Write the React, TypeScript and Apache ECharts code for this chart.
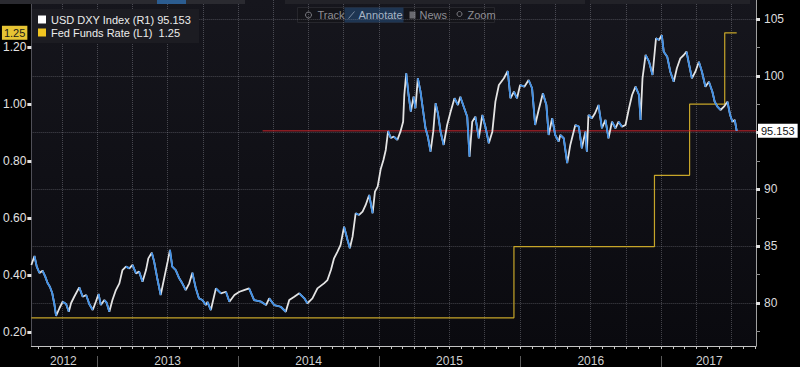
import React, { useEffect, useRef } from 'react';
import * as echarts from 'echarts';

const dxyName = 'USD DXY Index (R1)';
const fedName = 'Fed Funds Rate (L1)';

const dxyDates = [
  '2012-07-14','2012-07-22','2012-07-28','2012-08-04','2012-08-12','2012-08-19','2012-08-25','2012-08-31','2012-09-06','2012-09-12',
  '2012-09-16','2012-09-25','2012-10-03','2012-10-12','2012-10-19','2012-10-25','2012-11-02','2012-11-15','2012-11-24','2012-12-03',
  '2012-12-11','2012-12-20','2012-12-28','2013-01-04','2013-01-10','2013-01-19','2013-01-25','2013-02-01','2013-02-09','2013-02-18',
  '2013-02-27','2013-03-07','2013-03-16','2013-03-25','2013-04-02','2013-04-11','2013-04-19','2013-04-28','2013-05-07','2013-05-13',
  '2013-05-22','2013-05-28','2013-06-06','2013-06-14','2013-06-23','2013-07-02','2013-07-08','2013-07-14','2013-07-23','2013-08-01',
  '2013-08-09','2013-08-18','2013-08-27','2013-09-04','2013-09-13','2013-09-21','2013-09-30','2013-10-09','2013-10-13','2013-10-22',
  '2013-11-04','2013-11-17','2013-11-30','2013-12-09','2013-12-22','2014-01-04','2014-01-16','2014-01-29','2014-02-11','2014-03-01',
  '2014-03-14','2014-03-22','2014-04-04','2014-04-21','2014-05-04','2014-05-13','2014-05-26','2014-06-08','2014-06-21','2014-06-29',
  '2014-07-12','2014-07-25','2014-08-11','2014-08-20','2014-08-29','2014-09-06','2014-09-15','2014-09-23','2014-10-02','2014-10-11',
  '2014-10-17','2014-10-24','2014-11-01','2014-11-10','2014-11-19','2014-11-27','2014-12-06','2014-12-15','2014-12-21','2014-12-28',
  '2015-01-05','2015-01-12','2015-01-18','2015-01-24','2015-01-31','2015-02-08','2015-02-17','2015-02-25','2015-03-04','2015-03-07',
  '2015-03-12','2015-03-18','2015-03-24','2015-03-31','2015-04-05','2015-04-11','2015-04-18','2015-04-25','2015-05-01','2015-05-07',
  '2015-05-14','2015-05-21','2015-05-27','2015-06-02','2015-06-09','2015-06-17','2015-06-26','2015-07-05','2015-07-15','2015-07-24',
  '2015-07-30','2015-08-08','2015-08-17','2015-08-23','2015-08-30','2015-09-07','2015-09-16','2015-09-25','2015-10-03','2015-10-12',
  '2015-10-21','2015-10-29','2015-11-07','2015-11-20','2015-11-30','2015-12-07','2015-12-16','2015-12-24','2016-01-01','2016-01-12',
  '2016-01-23','2016-02-01','2016-02-09','2016-02-18','2016-02-29','2016-03-09','2016-03-15','2016-03-24','2016-04-01','2016-04-10',
  '2016-04-14','2016-04-23','2016-05-02','2016-05-10','2016-05-23','2016-06-01','2016-06-09','2016-06-18','2016-06-22','2016-06-26',
  '2016-07-05','2016-07-13','2016-07-22','2016-07-31','2016-08-09','2016-08-17','2016-08-26','2016-09-04','2016-09-12','2016-09-21',
  '2016-09-30','2016-10-09','2016-10-17','2016-10-26','2016-11-04','2016-11-08','2016-11-13','2016-11-21','2016-11-30','2016-12-09',
  '2016-12-18','2016-12-26','2017-01-02','2017-01-07','2017-01-16','2017-01-24','2017-02-02','2017-02-10','2017-02-19','2017-02-28',
  '2017-03-07','2017-03-13','2017-03-21','2017-03-30','2017-04-08','2017-04-16','2017-04-25','2017-05-04','2017-05-13','2017-05-19',
  '2017-05-26','2017-06-03','2017-06-12','2017-06-21','2017-06-28','2017-07-04','2017-07-10','2017-07-15'
];

const dxyValues = [
  83.35,84.14,83.20,82.64,82.84,82.32,81.76,81.43,80.88,79.82,
  78.86,79.56,80.11,79.91,79.23,80.00,80.55,81.38,80.55,80.70,
  79.91,79.38,80.11,80.79,79.82,80.26,80.03,79.23,80.26,81.14,
  81.73,82.90,83.20,83.05,83.35,82.61,82.76,81.88,82.90,83.93,
  84.43,83.64,82.02,80.70,82.17,83.64,84.67,83.20,82.90,82.17,
  81.73,81.14,81.73,82.67,81.29,80.41,80.26,79.82,80.10,79.38,
  81.29,80.85,80.99,80.11,80.70,80.99,81.14,81.29,80.26,80.11,
  79.82,80.41,79.82,79.67,79.23,80.26,80.55,80.85,80.41,79.97,
  80.41,81.29,81.73,82.02,82.90,83.93,84.52,85.11,86.72,85.55,
  84.82,85.84,87.90,87.75,88.04,88.63,89.51,87.90,89.80,90.24,
  91.80,92.59,93.47,95.14,94.52,94.64,94.35,95.08,95.96,98.31,
  100.22,98.31,96.84,98.16,97.14,99.78,98.60,96.84,95.38,94.64,
  93.32,95.08,97.58,96.70,95.08,93.91,95.67,96.84,98.02,97.43,
  98.16,97.28,96.40,92.88,95.96,96.40,94.50,96.55,95.52,94.06,
  95.08,97.72,99.19,99.78,100.42,98.02,98.60,98.02,99.19,99.04,
  99.63,98.90,95.67,96.99,98.46,97.43,94.79,96.26,94.79,94.20,
  94.79,94.50,92.32,93.91,95.67,95.52,93.62,95.08,93.32,96.55,
  96.26,96.70,97.43,95.38,96.11,94.50,95.96,95.38,95.96,95.52,
  95.67,97.14,98.31,99.04,98.31,96.11,99.78,101.83,101.24,100.07,
  103.30,103.15,103.59,102.12,101.68,100.36,99.48,100.66,101.54,101.83,
  102.12,101.10,99.78,100.36,101.24,100.36,99.04,99.48,98.60,97.72,
  97.28,96.99,97.28,97.72,96.55,95.96,96.11,95.153
];

const fedDates = ['2012-07-14', '2015-12-16', '2016-12-14', '2017-03-15', '2017-06-14', '2017-07-15'];
const fedValues = [0.25, 0.5, 0.75, 1.0, 1.25, 1.25];

const leftTicks = [0.2, 0.4, 0.6, 0.8, 1.0, 1.2];
const rightTicks = [80, 85, 90, 95, 100, 105];
const rightLabelValues = [80, 85, 90, 100, 105];
const rightMinorTicks = [77.5, 82.5, 87.5, 92.5, 97.5, 102.5];
const yearLabelDates = ['2012-10-05', '2013-07-02', '2014-07-02', '2015-07-02', '2016-07-02', '2017-05-05'];
const yearStartDates = ['2013-01-01', '2014-01-01', '2015-01-01', '2016-01-01', '2017-01-01'];
const redLineStart = '2014-03-05';
const xMinDate = '2012-07-14';
const xMaxDate = '2017-09-03';

const t = (s: string) => Date.parse(s + 'T00:00:00Z');
const FONT = 'Liberation Sans, Arial, sans-serif';

export default function App() {
  const ref = useRef<HTMLDivElement>(null);

  useEffect(() => {
    if (!ref.current) return;
    const chart = echarts.init(ref.current, undefined, { renderer: 'svg' });

    const xMin = t(xMinDate);
    const xMax = t(xMaxDate);
    const dxyTs = dxyDates.map(t);
    const dxyData = dxyTs.map((x, i) => [x, dxyValues[i]]);
    const downData: any[] = [];
    let lastIdx = -2;
    for (let i = 0; i < dxyValues.length - 1; i++) {
      if (dxyValues[i + 1] < dxyValues[i]) {
        if (lastIdx !== i) {
          if (downData.length) downData.push([dxyTs[i], '-']);
          downData.push([dxyTs[i], dxyValues[i]]);
        }
        downData.push([dxyTs[i + 1], dxyValues[i + 1]]);
        lastIdx = i + 1;
      }
    }
    const fedData = fedDates.map((d, i) => [t(d), fedValues[i]]);

    const monthTicks: number[] = [];
    const quarterTicks: number[] = [];
    for (let y = 2012; y <= 2017; y++) {
      for (let m = 0; m < 12; m++) {
        const v = Date.UTC(y, m, 1);
        if (v > xMin && v < xMax) {
          monthTicks.push(v);
          if (m % 3 === 0) quarterTicks.push(v);
        }
      }
    }
    const lastDxy = dxyValues[dxyValues.length - 1];
    const lastFed = fedValues[fedValues.length - 1];

    const gridLine = { color: 'rgba(160,160,170,0.38)', type: 'dotted' as const, width: 1 };
    const red = '#c8232a';

    const toolbarX = 297;
    const toolbarY = 7;

    chart.setOption({
      animation: false,
      backgroundColor: '#000000',
      textStyle: { fontFamily: FONT },
      grid: {
        left: 30, right: 44, top: 0, bottom: 21,
        show: true,
        borderWidth: 0,
        backgroundColor: new echarts.graphic.LinearGradient(0, 0, 0, 1, [
          { offset: 0, color: '#16161d' },
          { offset: 1, color: '#0a0a0f' }
        ])
      },
      legend: {
        left: 32, top: 9,
        orient: 'vertical',
        padding: [4, 8, 4, 6],
        itemGap: 0,
        itemWidth: 8, itemHeight: 8,
        icon: 'rect',
        selectedMode: false,
        backgroundColor: '#1c1c22',
        textStyle: { color: '#ececec', fontSize: 11, lineHeight: 13, fontFamily: FONT },
        data: [
          { name: dxyName, itemStyle: { color: '#ffffff' } },
          { name: fedName, itemStyle: { color: '#f0c420' } }
        ],
        formatter: (name: string) => name === dxyName ? `${name} ${lastDxy.toFixed(3)}` : `${name}  ${lastFed.toFixed(2)}`
      },
      xAxis: [
        {
          type: 'value', min: xMin, max: xMax, position: 'bottom',
          axisLine: { show: true, lineStyle: { color: '#c4c4c4', width: 1 } },
          axisTick: { show: true, customValues: monthTicks, length: 3, lineStyle: { color: '#c4c4c4' } },
          axisLabel: {
            customValues: yearLabelDates.map(t),
            formatter: (v: number) => String(new Date(v).getUTCFullYear()),
            color: '#d0d0d0', fontSize: 12, margin: 9, fontFamily: FONT
          },
          splitLine: { show: false }
        },
        {
          type: 'value', min: xMin, max: xMax, position: 'bottom',
          axisLine: { show: false },
          axisTick: { show: false, customValues: quarterTicks },
          axisLabel: { show: false },
          splitLine: { show: true, lineStyle: gridLine }
        },
        {
          type: 'value', min: xMin, max: xMax, position: 'bottom', offset: 10,
          axisLine: { show: false },
          axisTick: { show: true, customValues: yearStartDates.map(t), length: 11, lineStyle: { color: '#5a5a5a' } },
          axisLabel: { show: false },
          splitLine: { show: false }
        }
      ],
      yAxis: [
        {
          type: 'value', min: 0.151, max: 1.365, position: 'left',
          axisLine: { show: true, lineStyle: { color: '#505058' } },
          axisTick: { show: true, customValues: leftTicks, length: 4, inside: false, lineStyle: { color: '#e0e0e0', width: 3 } },
          axisLabel: { customValues: leftTicks, formatter: (v: number) => v.toFixed(2), color: '#e2e2e2', fontSize: 12, margin: 5, fontFamily: FONT },
          splitLine: { show: false }
        },
        {
          type: 'value', min: 76.215, max: 106.67, position: 'right',
          axisLine: { show: true, lineStyle: { color: '#a0a0a0' } },
          axisTick: { show: true, customValues: rightTicks, length: 4, lineStyle: { color: '#e0e0e0', width: 3 } },
          axisLabel: { customValues: rightLabelValues, color: '#dcdcdc', fontSize: 12, margin: 8, fontFamily: FONT },
          splitLine: { show: true, lineStyle: gridLine }
        },
        {
          type: 'value', min: 76.215, max: 106.67, position: 'right',
          axisLine: { show: false },
          axisTick: { show: true, customValues: rightMinorTicks, length: 4, lineStyle: { color: '#909090', width: 1 } },
          axisLabel: { show: false },
          splitLine: { show: false }
        }
      ],
      series: [
        {
          name: fedName,
          type: 'line',
          xAxisIndex: 0, yAxisIndex: 0,
          step: 'end',
          data: fedData,
          showSymbol: false,
          color: '#c6a529',
          lineStyle: { color: '#c6a529', width: 1.2 },
          z: 2,
          markLine: {
            silent: true,
            symbol: ['none', 'none'],
            lineStyle: { color: 'rgba(0,0,0,0)', width: 1, opacity: 1 },
            label: {
              show: true, position: 'start', distance: 4,
              formatter: () => lastFed.toFixed(2),
              backgroundColor: '#e6c434', color: '#1a1a1a', fontSize: 11,
              padding: [2, 2, 1, 2], fontFamily: FONT, opacity: 1
            },
            data: [{ yAxis: lastFed }]
          }
        },
        {
          name: 'last-price',
          type: 'line',
          xAxisIndex: 0, yAxisIndex: 1,
          data: [[t(redLineStart), lastDxy], [xMax, lastDxy]],
          showSymbol: false,
          color: red,
          lineStyle: { color: red, width: 1 },
          clip: false,
          z: 2,
          endLabel: {
            show: true, distance: 2,
            formatter: () => lastDxy.toFixed(3),
            backgroundColor: '#ffffff', color: '#111111', fontSize: 11,
            padding: [2, 3, 1, 3], fontFamily: FONT
          }
        },
        {
          name: dxyName,
          type: 'line',
          xAxisIndex: 0, yAxisIndex: 1,
          data: dxyData,
          showSymbol: false,
          color: '#ffffff',
          lineStyle: { color: '#e4e4e4', width: 1.8 },
          z: 3
        },
        {
          name: 'dxy-down',
          type: 'line',
          xAxisIndex: 0, yAxisIndex: 1,
          data: downData,
          connectNulls: false,
          showSymbol: false,
          color: '#3f8fe6',
          lineStyle: { color: '#3f8fe6', width: 1.8 },
          z: 4
        }
      ],
      graphic: [
        { type: 'rect', left: 0, top: 0, shape: { width: 245, height: 4 }, style: { fill: '#2a2a30' }, z: 100 },
        { type: 'rect', left: 157, top: 0, shape: { width: 29, height: 4 }, style: { fill: '#2b5c90' }, z: 101 },
        { type: 'rect', left: 285, top: 0, shape: { width: 300, height: 4 }, style: { fill: '#222228' }, z: 100 },
        { type: 'rect', left: 590, top: 0, shape: { width: 160, height: 4 }, style: { fill: '#222228' }, z: 100 },
        {
          type: 'group', left: toolbarX, top: toolbarY, z: 100,
          children: [
            { type: 'rect', shape: { x: 0, y: 0, width: 197, height: 15 }, style: { fill: '#141419', stroke: '#26262c', lineWidth: 1 } },
            { type: 'rect', shape: { x: 47, y: 0, width: 59, height: 15 }, style: { fill: '#1e3552' } },
            { type: 'circle', shape: { cx: 11, cy: 7.5, r: 3 }, style: { fill: 'none', stroke: '#7a7a80', lineWidth: 1 } },
            { type: 'text', style: { x: 20, y: 7.5, text: 'Track', fill: '#8e8e94', fontSize: 11, fontFamily: FONT, verticalAlign: 'middle' } },
            { type: 'line', shape: { x1: 51, y1: 11, x2: 57, y2: 4 }, style: { stroke: '#7a8aa0', lineWidth: 1 } },
            { type: 'text', style: { x: 61, y: 7.5, text: 'Annotate', fill: '#a8b4c4', fontSize: 11, fontFamily: FONT, verticalAlign: 'middle' } },
            { type: 'rect', shape: { x: 112, y: 4, width: 6, height: 7 }, style: { fill: '#6a6a70' } },
            { type: 'text', style: { x: 122, y: 7.5, text: 'News', fill: '#8e8e94', fontSize: 11, fontFamily: FONT, verticalAlign: 'middle' } },
            { type: 'circle', shape: { cx: 162, cy: 6.5, r: 2.5 }, style: { fill: 'none', stroke: '#7a7a80', lineWidth: 1 } },
            { type: 'text', style: { x: 170, y: 7.5, text: 'Zoom', fill: '#8e8e94', fontSize: 11, fontFamily: FONT, verticalAlign: 'middle' } }
          ]
        }
      ]
    });

    return () => chart.dispose();
  }, []);

  return (
    <div style={{ position: 'fixed', left: 0, top: 0, width: 800, height: 367, background: '#000' }}>
      <div ref={ref} style={{ width: 800, height: 367 }} />
    </div>
  );
}
